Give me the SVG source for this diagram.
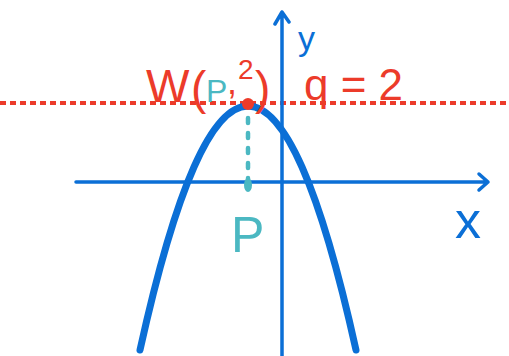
<svg xmlns="http://www.w3.org/2000/svg" width="509" height="356" viewBox="0 0 509 356">
<style>
.blue{stroke:#0b6fd6;fill:none;stroke-linecap:round;stroke-linejoin:round}
.red{fill:#ec3b2a;font-family:"Liberation Sans",Arial,sans-serif}
.teal{fill:#4bb8c2;font-family:"Liberation Sans",Arial,sans-serif}
.bl{fill:#0b6fd6;font-family:"Liberation Sans",Arial,sans-serif}
</style>
<rect width="509" height="356" fill="#fff"/>
<line x1="0" y1="103" x2="509" y2="103" stroke="#ec3b2a" stroke-width="4" stroke-dasharray="6 4"/>
<g id="axes">
<path class="blue" stroke-width="3.5" d="M76 182 L488 182 M479 174 L488 182 L479 190"/>
<path class="blue" stroke-width="3.5" d="M282 356 L282 12 M275 24 L282 12 L289 22"/>
</g>
<g id="parabola">
<path class="blue" stroke-width="7" d="M140 350 Q248 -138 356 350"/>
</g>
<g id="vertex">
<path d="M248 118 L248 190" stroke="#4bb8c2" stroke-width="4.5" stroke-linecap="round" stroke-dasharray="5 10"/>
<ellipse cx="248" cy="185" rx="4" ry="7" fill="#4bb8c2"/>
<circle cx="248" cy="104" r="6" fill="#ec3b2a"/>
</g>
<g id="labels">
<text class="red" x="146" y="102" font-size="46">W</text>
<text class="red" x="191" y="104" font-size="46">(</text>
<text class="teal" x="206" y="102" font-size="32">P</text>
<text class="red" x="227" y="94" font-size="36">,</text>
<text class="red" x="238" y="79" font-size="28">2</text>
<text class="red" x="255" y="104" font-size="46">)</text>
<text class="red" x="304" y="100" font-size="44">q = 2</text>
<text class="bl" x="298" y="50" font-size="34">y</text>
<text class="bl" x="455" y="238" font-size="52">x</text>
<text class="teal" x="231" y="252" font-size="50">P</text>
</g>
</svg>
